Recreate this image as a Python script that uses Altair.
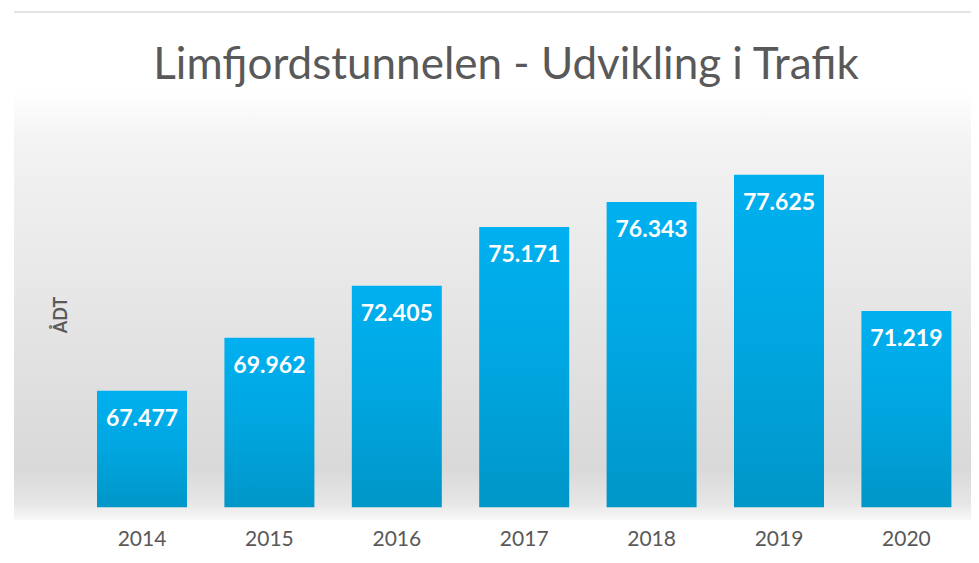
import altair as alt
import pandas as pd

years = ["2014", "2015", "2016", "2017", "2018", "2019", "2020"]
values = [67.477, 69.962, 72.405, 75.171, 76.343, 77.625, 71.219]
labels = ["67.477", "69.962", "72.405", "75.171", "76.343", "77.625", "71.219"]
title_text = "Limfjordstunnelen - Udvikling i Trafik"
y_title = "ÅDT"

W, H = 957, 508
BASE = 62.0

df = pd.DataFrame({"year": years, "value": values, "label": labels, "base": [BASE] * len(years)})

x_enc = alt.X(
    "year:N",
    sort=years,
    scale=alt.Scale(paddingInner=0.2936, paddingOuter=0.4027, align=0.809),
    axis=alt.Axis(
        title=None, domain=False, ticks=False, grid=False, labelAngle=0,
        labelFontSize=21, labelColor="#595959", labelFont="Lato", labelPadding=8,
    ),
)
y_scale = alt.Scale(domain=[61.403, 85.27], zero=False, nice=False)
y_enc = alt.Y("value:Q", scale=y_scale, axis=None)

bg = alt.Chart(pd.DataFrame({"k": [0]})).mark_rect(
    fill=alt.Gradient(
        gradient="linear", x1=0, y1=0, x2=0, y2=1,
        stops=[
            alt.GradientStop(color="#ffffff", offset=0),
            alt.GradientStop(color="#f3f3f3", offset=0.12),
            alt.GradientStop(color="#eaeaea", offset=0.38),
            alt.GradientStop(color="#dedede", offset=0.72),
            alt.GradientStop(color="#d9d9d9", offset=0.88),
            alt.GradientStop(color="#e6e6e6", offset=0.96),
            alt.GradientStop(color="#f8f8f8", offset=1),
        ],
    )
).encode(x=alt.value(0), x2=alt.value(W), y=alt.value(78), y2=alt.value(H))

topline = alt.Chart(pd.DataFrame({"k": [0]})).mark_rule(color="#e4e4e4", strokeWidth=2).encode(
    x=alt.value(0), x2=alt.value(W), y=alt.value(0)
)

bars = alt.Chart(df).mark_bar(
    fill=alt.Gradient(
        gradient="linear", x1=0, y1=0, x2=0, y2=1,
        stops=[
            alt.GradientStop(color="#00b0f0", offset=0),
            alt.GradientStop(color="#00a6e0", offset=0.5),
            alt.GradientStop(color="#0096c8", offset=1),
        ],
    )
).encode(x=x_enc, y=y_enc, y2="base:Q")

bar_labels = alt.Chart(df).mark_text(
    color="white", fontWeight="bold", fontSize=23, font="Lato", baseline="middle", dy=28
).encode(x=x_enc, y=y_enc, text="label:N")

title = alt.Chart(pd.DataFrame({"t": [title_text]})).mark_text(
    fontSize=44, font="Lato", color="#595959", align="center", baseline="middle"
).encode(x=alt.value(492), y=alt.value(54), text="t:N")

ytitle = alt.Chart(pd.DataFrame({"t": [y_title]})).mark_text(
    fontSize=18, font="Lato", fontWeight="bold", color="#595959", angle=270,
    align="center", baseline="middle"
).encode(x=alt.value(48), y=alt.value(303), text="t:N")

chart = alt.layer(bg, topline, bars, bar_labels, title, ytitle).properties(
    width=W, height=H,
    padding={"left": 6, "top": 4, "right": 0, "bottom": 35},
    autosize=alt.AutoSizeParams(type="none"),
    background="white",
).configure_view(stroke=None)

chart.save("out.html", embed_options={"renderer": "svg", "actions": False})
